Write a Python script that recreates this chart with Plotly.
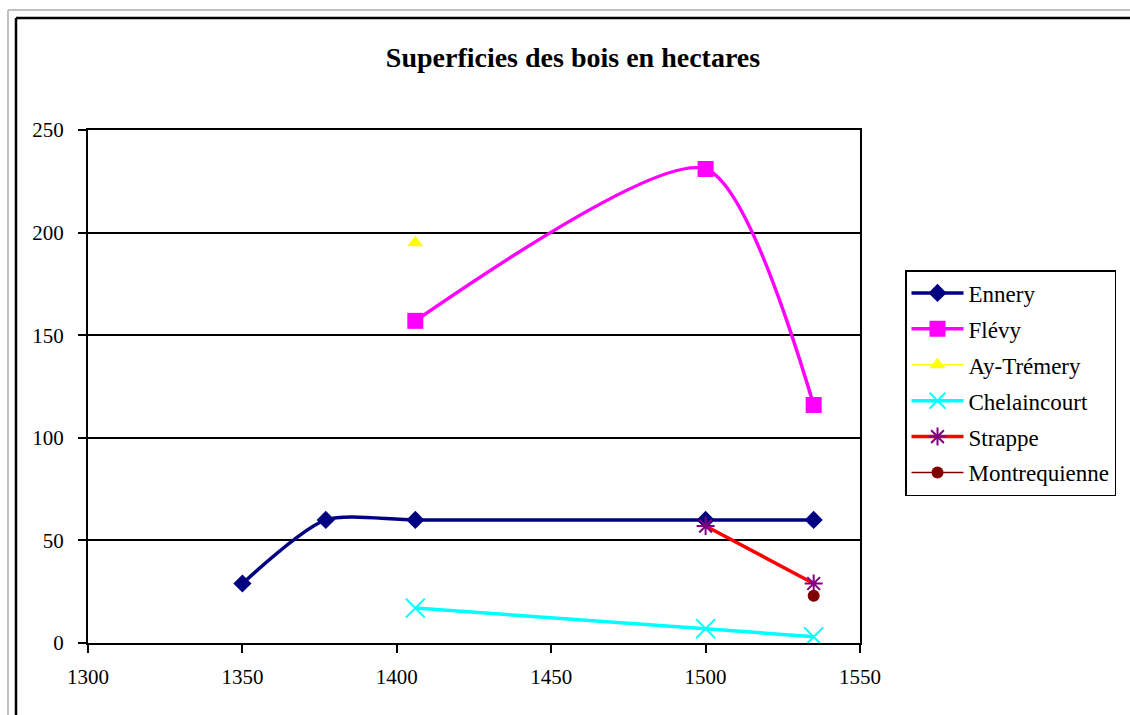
import plotly.graph_objects as go

# Forest areas (hectares) by year, per village
ennery_years = [1350, 1377, 1406, 1500, 1535]
ennery_ha = [29, 60, 60, 60, 60]

flevy_years = [1406, 1500, 1535]
flevy_ha = [157, 231, 116]

ay_years = [1406]
ay_ha = [195]

chelaincourt_years = [1406, 1500, 1535]
chelaincourt_ha = [17, 7, 3]

strappe_years = [1500, 1535]
strappe_ha = [57, 29]

montrequienne_years = [1535]
montrequienne_ha = [23]

x_ticks = [1300, 1350, 1400, 1450, 1500, 1550]
y_ticks = [0, 50, 100, 150, 200, 250]

FONT = "Liberation Serif, Times New Roman, serif"

# plot-area geometry in pixels, used to place the frame and legend
W, H = 1130, 715
L, R, T, B = 88, 860, 130, 643


def px_x(p):
    return (p - L) / (R - L)


def px_y(p):
    return (B - p) / (B - T)


fig = go.Figure()

series = [
    ("Ennery", ennery_years, ennery_ha, "#000080", 3.5, "diamond", 14, "#000080"),
    ("Flévy", flevy_years, flevy_ha, "#FF00FF", 3.5, "square", 16, "#FF00FF"),
    ("Ay-Trémery", ay_years, ay_ha, "#FFFF00", 1.5, "triangle-up", 14, "#FFFF00"),
    ("Chelaincourt", chelaincourt_years, chelaincourt_ha, "#00FFFF", 3.5, "x-thin-open", 19, "#00FFFF"),
    ("Strappe", strappe_years, strappe_ha, "#FF0000", 3.5, "asterisk-open", 15, "#800080"),
    ("Montrequienne", montrequienne_years, montrequienne_ha, "#800000", 1.5, "circle", 12, "#800000"),
]

for i, (name, xs, ys, color, lw, sym, size, mcolor) in enumerate(series):
    open_sym = sym.endswith("open")
    fig.add_trace(go.Scatter(
        x=xs, y=ys, name=name, mode="lines+markers",
        legendgroup=f"g{i}",
        line=dict(color=color, width=lw, shape="spline", smoothing=0.7),
        marker=dict(
            symbol=sym, size=size, color=mcolor,
            line=dict(color=mcolor, width=2 if open_sym else 0),
        ),
    ))

# outer chart frame (light grey offset line and black border)
shapes = [
    dict(type="line", xref="paper", yref="paper", x0=px_x(8), x1=px_x(W + 5), y0=px_y(10), y1=px_y(10),
         line=dict(color="#C0C0C0", width=2)),
    dict(type="line", xref="paper", yref="paper", x0=px_x(8), x1=px_x(8), y0=px_y(10), y1=px_y(H + 5),
         line=dict(color="#C0C0C0", width=2)),
    dict(type="line", xref="paper", yref="paper", x0=px_x(16), x1=px_x(W + 5), y0=px_y(18), y1=px_y(18),
         line=dict(color="black", width=2.5)),
    dict(type="line", xref="paper", yref="paper", x0=px_x(16), x1=px_x(16), y0=px_y(18), y1=px_y(H + 5),
         line=dict(color="black", width=2.5)),
]

fig.update_layout(
    width=W, height=H,
    margin=dict(l=L, r=W - R, t=T, b=H - B),
    paper_bgcolor="white", plot_bgcolor="white",
    font=dict(family=FONT, color="black", size=21),
    title=dict(
        text="<b>Superficies des bois en hectares</b>",
        x=573 / W, xanchor="center", xref="container",
        y=1 - 57 / H, yanchor="middle", yref="container",
        font=dict(family=FONT, size=28, color="black"),
    ),
    showlegend=True,
    legend=dict(
        x=px_x(905), y=px_y(270), xanchor="left", yanchor="top",
        bordercolor="black", borderwidth=1.5, bgcolor="white",
        font=dict(family=FONT, size=23, color="black"),
        tracegroupgap=3, itemwidth=52,
    ),
    shapes=shapes,
    xaxis=dict(
        range=[1300, 1550], tickmode="array", tickvals=x_ticks,
        ticktext=[str(v) for v in x_ticks],
        showgrid=False, zeroline=False,
        showline=True, linecolor="black", linewidth=2, mirror=True,
        ticks="outside", ticklen=8, tickwidth=2, tickcolor="black",
        tickfont=dict(family=FONT, size=21, color="black"),
        ticklabelstandoff=6,
    ),
    yaxis=dict(
        range=[0, 250], tickmode="array", tickvals=y_ticks,
        ticktext=[str(v) for v in y_ticks],
        showgrid=True, gridcolor="black", gridwidth=1.5, zeroline=False,
        showline=True, linecolor="black", linewidth=2, mirror=True,
        ticks="outside", ticklen=8, tickwidth=2, tickcolor="black",
        tickfont=dict(family=FONT, size=21, color="black"),
        ticklabelstandoff=10,
    ),
)

fig.write_html("out.html")
